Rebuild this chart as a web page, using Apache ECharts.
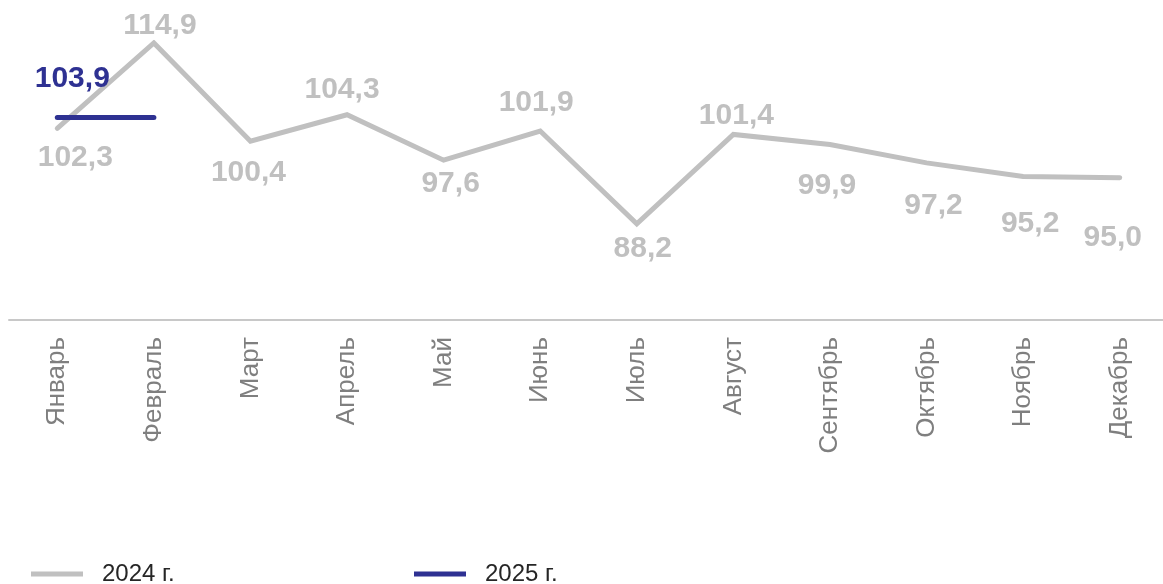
<!DOCTYPE html>
<html><head><meta charset="utf-8">
<script src="https://cdn.jsdelivr.net/npm/echarts@6/dist/echarts.min.js"></script>
<style>html,body{margin:0;padding:0;background:#fff}#c{width:1163px;height:584px}</style>
</head><body><div id="c"></div>
<script>
const categories = ['Январь','Февраль','Март','Апрель','Май','Июнь','Июль','Август','Сентябрь','Октябрь','Ноябрь','Декабрь'];
const values2024 = [102.3, 114.9, 100.4, 104.3, 97.6, 101.9, 88.2, 101.4, 99.9, 97.2, 95.2, 95.0];
const values2025 = [103.9, 103.9];
const seriesNames = ['2024 г.', '2025 г.'];

// label offsets (style only) relative to each point
const off2024 = [[18,29],[6,-17],[-2,32],[-5,-25],[7,24],[-4,-28],[6,25],[3,-19],[-3,41],[7,43],[7,47],[-7,60]];
const fmt = v => v.toFixed(1).replace('.', ',');
const FONT = '"Liberation Sans", Arial, sans-serif';
const GREY = '#c0c0c0', NAVY = '#2e3192';

const d2024 = values2024.map((v,i) => ({
  value: v,
  label: {show: true, position: 'inside', offset: off2024[i], formatter: fmt(v)}
}));
const d2025 = values2025.map((v,i) => ({
  value: v,
  label: i === 0 ? {show: true, position: 'inside', offset: [15,-39], formatter: fmt(v)} : {show: false}
}));

const chart = echarts.init(document.getElementById('c'), null, {renderer: 'canvas'});
chart.setOption({
  animation: false,
  textStyle: {fontFamily: FONT},
  grid: {left: 9, width: 1159, top: 42.3, height: 277.7, containLabel: false, outerBoundsMode: 'none'},
  legend: [
    {left: 26, top: 557, icon: 'rect', itemWidth: 52, itemHeight: 5, data: [seriesNames[0]],
     textStyle: {fontFamily: FONT, fontSize: 24, color: '#262626', padding: [0,0,0,14]}},
    {left: 409, top: 557, icon: 'rect', itemWidth: 52, itemHeight: 5, data: [seriesNames[1]],
     textStyle: {fontFamily: FONT, fontSize: 24, color: '#262626', padding: [0,0,0,14]}}
  ],
  xAxis: {
    type: 'category', data: categories, boundaryGap: true,
    axisLine: {lineStyle: {color: '#c8c8c8', width: 2}},
    axisTick: {show: false},
    axisLabel: {rotate: 90, margin: 17, fontSize: 26, color: '#7f7f7f', fontFamily: FONT, interval: 0}
  },
  yAxis: {type: 'value', min: 74, max: 115, show: false, splitLine: {show: false}},
  series: [
    {name: seriesNames[0], type: 'line', data: d2024, symbol: 'circle', symbolSize: 0.1,
     lineStyle: {color: GREY, width: 5, cap: 'round', join: 'miter'}, itemStyle: {color: GREY},
     label: {fontSize: 30, fontWeight: 'bold', color: GREY, fontFamily: FONT}, z: 2},
    {name: seriesNames[1], type: 'line', data: d2025, symbol: 'circle', symbolSize: 0.1,
     lineStyle: {color: NAVY, width: 5, cap: 'round'}, itemStyle: {color: NAVY},
     label: {fontSize: 30, fontWeight: 'bold', color: NAVY, fontFamily: FONT}, z: 3}
  ]
});
</script></body></html>
